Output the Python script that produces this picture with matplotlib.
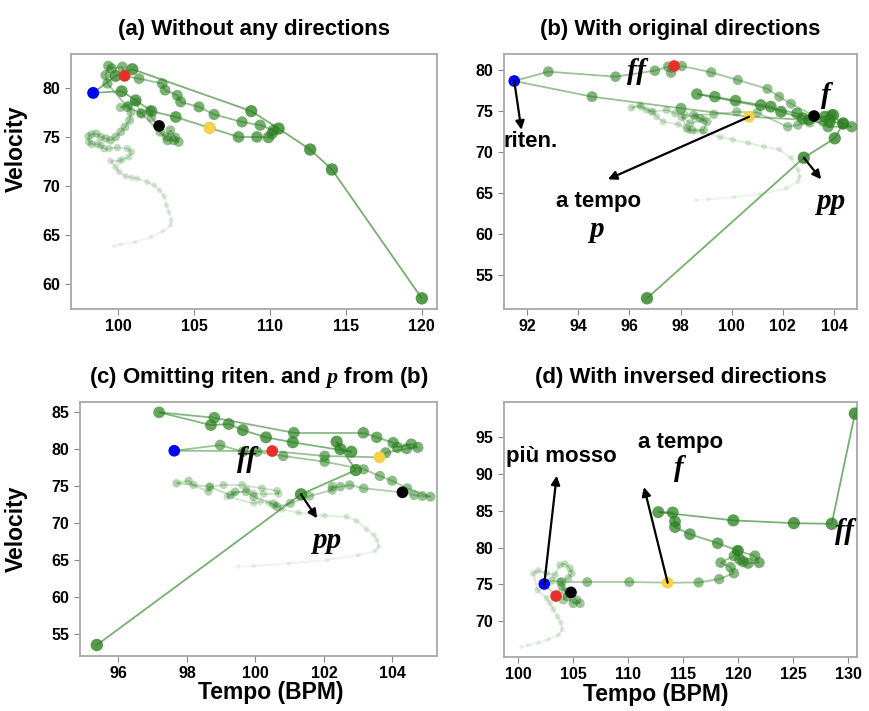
import matplotlib.pyplot as plt
import numpy as np
from matplotlib.collections import LineCollection

plt.rcParams['font.family'] = ['Liberation Sans', 'DejaVu Sans']
plt.rcParams['font.weight'] = 'bold'
plt.rcParams['mathtext.fontset'] = 'custom'
plt.rcParams['mathtext.it'] = 'Liberation Serif:italic:bold'
plt.rcParams['mathtext.rm'] = 'Liberation Sans:bold'

# ---- (a) without any directions ----
tempo_a = [99.74, 100.17, 101.12, 102.15, 102.96, 103.46, 103.5, 103.35, 103.18, 103.03,
           102.74, 102.37, 101.93, 101.27, 100.9, 100.5, 100.07, 99.84, 99.51, 100.1,
           100.28, 100.72, 100.9, 100.61, 99.95, 99.41, 99.08, 98.86, 98.64, 98.26,
           98.09, 98.05, 98.26, 98.57, 98.86, 99.18, 99.51, 99.84, 100.17, 100.46,
           100.76, 100.85, 100.7, 100.15, 101.2, 101.5, 102.1, 102.2, 102.7, 102.78,
           103.22, 103.44, 103.77, 103.99, 103.66, 103.26,
           101.55, 100.6, 99.3, 99.18, 99.36, 99.58, 100.28, 100.43, 101.38, 102.91,
           103.09, 103.9, 104.12, 105.33, 106.32, 108.16, 109.36, 110.24, 110.13, 109.9,
           109.14, 107.93, 106.03, 103.8, 102.2, 101.16, 100.24, 98.36, 99.84, 100.94,
           108.77, 110.57, 112.65, 114.08, 120.0]
vel_a = [63.9, 64.05, 64.3, 64.8, 65.4, 66.0, 66.5, 67.36, 68.04, 68.95,
         69.56, 70.07, 70.4, 70.75, 70.85, 70.98, 71.42, 71.93, 72.54, 72.54,
         72.68, 72.95, 73.46, 73.8, 73.9, 73.8, 73.8, 74.14, 74.24, 74.24,
         74.47, 75.05, 75.25, 75.32, 74.98, 74.82, 74.64, 74.98, 75.49, 76.0,
         76.68, 77.5, 78.2, 77.97, 78.5, 77.4, 77.7, 76.95, 76.07, 75.49,
         74.98, 75.66, 74.92, 74.47, 74.64, 74.64,
         77.36, 78.03, 80.4, 81.25, 82.2, 81.93, 82.1, 81.18, 80.9, 80.4,
         79.73, 79.2, 78.54, 78.03, 77.26, 76.5, 76.17, 75.66, 75.32, 74.92,
         74.98, 74.98, 75.9, 77.0, 77.6, 78.7, 79.62, 79.45, 81.18, 81.86,
         77.6, 75.83, 73.7, 71.67, 58.58]
marks_a = {'blue': (98.36, 79.45), '#e8302a': (100.43, 81.18),
           'black': (102.7, 76.1), '#f7d244': (106.03, 75.9)}

# ---- (b) with original directions ----
tempo_b = [98.6, 99.1, 100.1, 101.1, 102.13, 102.6, 102.65, 102.6, 102.32, 101.86,
           101.27, 100.65, 100.05, 99.56, 98.84, 98.58, 98.31, 97.92, 97.32, 97.07,
           96.93, 96.67, 96.41, 96.08, 96.47, 96.87, 97.46, 97.79, 98.18, 98.58,
           98.9, 98.38, 98.05, 98.25, 98.45, 98.9, 99.04, 98.77, 98.51, 99.3,
           100.2, 101.0,
           102.19, 102.59, 103.05, 103.57, 103.22, 102.32, 101.86, 101.4, 100.24, 99.2,
           98.05, 97.63, 97.52, 97.0, 95.46, 92.83, 91.5, 94.54, 98.02, 100.68,
           103.0, 103.9, 104.36, 104.69, 103.77, 102.55, 98.64, 99.34, 100.15, 101.14,
           101.53, 101.93, 102.78, 103.64, 103.97, 103.83, 104.36, 104.03, 102.82, 96.69]
vel_b = [64.15, 64.23, 64.5, 64.85, 65.57, 66.4, 67.0, 67.8, 69.3, 70.3,
         70.65, 71.1, 71.5, 71.8, 72.48, 72.55, 72.68, 73.38, 73.7, 74.3,
         74.91, 75.12, 75.73, 75.4, 75.52, 74.91, 75.12, 74.72, 74.51, 74.3,
         73.9, 73.5, 74.3, 72.89, 72.68, 72.68, 73.7, 74.11, 74.51, 74.6,
         74.9, 74.8,
         73.08, 73.29, 73.57, 73.7, 74.39, 75.9, 76.75, 77.7, 78.78, 79.72,
         80.49, 79.68, 80.41, 79.92, 79.19, 79.8, 78.66, 76.75, 75.33, 74.3,
         73.9, 74.51, 73.41, 73.08, 73.09, 74.72, 77.07, 76.75, 76.26, 75.73,
         75.53, 74.91, 74.11, 74.3, 74.51, 73.7, 73.5, 71.67, 69.3, 52.16]
marks_b = {'blue': (91.5, 78.66), '#e8302a': (97.75, 80.49),
           'black': (103.22, 74.39), '#f7d244': (100.68, 74.3)}

# ---- (c) omitting riten. and p ----
tempo_c = [99.49, 99.95, 100.97, 102.09, 103.0, 103.5, 103.6, 103.55, 103.46, 103.24,
           102.95, 102.66, 102.02, 101.26, 100.78, 100.58, 100.39, 100.14, 99.95, 99.17,
           99.36, 99.75, 99.95, 100.24, 100.68, 100.63, 100.19, 99.61, 99.07, 98.68,
           98.63, 98.19, 98.05, 97.7, 98.66, 99.27, 99.41, 99.73, 99.95, 100.53,
           100.63, 101.02,
           101.58, 102.24, 102.24, 102.48, 102.75, 103.16, 104.29, 104.63, 104.87, 105.11,
           104.43, 103.99, 103.63, 103.16, 102.02, 100.81, 100.05, 99.64, 98.97, 97.63,
           100.49, 102.02, 103.62, 103.8, 104.41, 104.74, 104.55, 104.14, 104.02, 103.54,
           103.15, 101.12, 98.8, 97.19, 98.7, 99.22, 99.63, 100.31, 101.09, 102.8,
           102.48, 102.37, 102.93, 101.33, 95.37]
vel_c = [64.14, 64.23, 64.59, 65.04, 65.7, 66.26, 66.84, 67.74, 68.42, 69.19,
         70.35, 70.89, 71.03, 71.43, 71.89, 72.47, 72.7, 72.92, 72.7, 73.6,
         73.96, 74.59, 74.05, 73.96, 73.96, 74.41, 74.73, 75.18, 75.18, 74.95,
         74.27, 75.18, 75.76, 75.41, 74.95, 73.82, 74.27, 74.27, 73.6, 72.61,
         72.25, 72.7,
         73.69, 74.5, 74.95, 74.95, 75.18, 74.73, 74.19, 73.82, 73.69, 73.6,
         74.73, 75.76, 76.4, 77.3, 78.33, 79.1, 79.68, 79.68, 80.58, 79.81,
         79.77, 79.1, 78.92, 79.54, 80.09, 80.27, 80.72, 80.27, 80.9, 81.62,
         82.24, 82.24, 84.27, 85.0, 83.28, 83.42, 82.6, 81.62, 80.95, 79.68,
         80.04, 81.03, 77.2, 73.92, 53.55]
marks_c = {'blue': (97.63, 79.81), '#e8302a': (100.49, 79.77),
           'black': (104.29, 74.19), '#f7d244': (103.62, 78.92)}

# ---- (d) with inversed directions ----
tempo_d = [100.25, 100.91, 101.82, 102.73, 103.64, 104.0, 103.88, 103.58, 103.18, 102.88,
           102.58, 101.76, 101.36, 101.82, 102.58, 103.34, 103.79, 104.25, 104.7, 104.85,
           104.55, 103.79, 103.03, 102.36, 103.43, 103.94, 104.25, 104.09, 104.79, 104.85,
           105.31, 105.61, 105.0, 104.5, 103.94,
           106.27, 110.09, 113.58, 116.4, 118.27, 119.61, 119.3, 118.4, 119.61, 119.9,
           121.52, 121.9, 120.9, 120.45, 120.15, 120.0, 118.13, 115.6, 114.25, 114.25,
           114.04, 112.73, 119.55, 125.06, 128.5, 130.61]
vel_d = [66.49, 66.72, 67.04, 67.5, 68.08, 68.86, 69.76, 70.58, 71.59, 72.41,
         73.1, 74.22, 76.5, 76.86, 76.5, 76.27, 77.63, 77.77, 77.18, 76.5,
         75.82, 75.35, 75.49, 75.04, 73.4, 74.67, 73.99, 72.86, 73.9, 73.77,
         72.86, 72.41, 72.41, 73.3, 75.31,
         75.31, 75.31, 75.22, 75.25, 75.7, 76.5, 77.32, 77.95, 78.86, 79.58,
         78.86, 77.95, 77.86, 78.08, 78.41, 79.58, 80.59, 81.82, 82.78, 83.54,
         84.77, 84.82, 83.7, 83.32, 83.23, 98.23]
marks_d = {'blue': (102.36, 75.04), '#e8302a': (103.43, 73.4),
           'black': (104.79, 73.9), '#f7d244': (113.58, 75.22)}

GREEN = np.array([0.17, 0.50, 0.13])
dyn = dict(family='Liberation Serif', style='italic', weight='bold', color='black')
label_kw = dict(fontsize=16.5, fontweight='bold')
ann_kw = dict(fontsize=16, fontweight='bold', ha='center', va='center')


def trajectory(ax, x, y, marks):
    x = np.asarray(x)
    y = np.asarray(y)
    n = len(x)
    t = np.linspace(0, 1, n)
    alpha = 0.08 + 0.72 * t
    sizes = 10 + 70 * t
    pts = np.column_stack([x, y])
    segs = np.stack([pts[:-1], pts[1:]], axis=1)
    seg_col = np.column_stack([np.tile(GREEN, (n - 1, 1)), alpha[1:] * 0.8])
    ax.add_collection(LineCollection(segs, colors=seg_col, linewidths=1.3, zorder=2))
    fc = np.column_stack([np.tile(GREEN, (n, 1)), alpha])
    ax.scatter(x, y, s=sizes, c=fc, edgecolors='none', zorder=3)
    for col, (mx, my) in marks.items():
        ax.scatter([mx], [my], s=70, c=col, edgecolors='none', zorder=5)


def style(ax):
    for sp in ax.spines.values():
        sp.set_color('#a8a8a8')
        sp.set_linewidth(1.3)
    ax.tick_params(colors='#888888', labelcolor='black', labelsize=11.5, length=4)
    for lab in ax.get_xticklabels() + ax.get_yticklabels():
        lab.set_fontweight('bold')


fig = plt.figure(figsize=(8.69, 7.11), dpi=100)
ax_a = fig.add_axes([0.0817, 0.5654, 0.4212, 0.3586])
ax_b = fig.add_axes([0.58, 0.5654, 0.4062, 0.3586])
ax_c = fig.add_axes([0.0921, 0.0774, 0.4108, 0.3572])
ax_d = fig.add_axes([0.58, 0.0759, 0.4062, 0.3586])

arrow = dict(arrowstyle='-|>', color='black', lw=1.6, mutation_scale=13, shrinkA=0, shrinkB=0)
title_kw = dict(fontsize=16, fontweight='bold', pad=14)

# (a)
trajectory(ax_a, tempo_a, vel_a, marks_a)
ax_a.set_xlim(96.9, 121.0)
ax_a.set_ylim(57.5, 83.4)
ax_a.set_xticks([100, 105, 110, 115, 120])
ax_a.set_yticks([60, 65, 70, 75, 80])
ax_a.set_title('(a) Without any directions', **title_kw)
ax_a.set_ylabel('Velocity', **label_kw)
ax_a.yaxis.set_label_coords(-0.117, 0.63)

# (b)
trajectory(ax_b, tempo_b, vel_b, marks_b)
ax_b.set_xlim(91.1, 104.9)
ax_b.set_ylim(50.85, 81.95)
ax_b.set_xticks([92, 94, 96, 98, 100, 102, 104])
ax_b.set_yticks([55, 60, 65, 70, 75, 80])
ax_b.set_title('(b) With original directions', **title_kw)
ax_b.annotate('', xy=(91.78, 72.7), xytext=(91.5, 78.66), arrowprops=arrow, zorder=6)
ax_b.text(92.13, 71.26, 'riten.', **ann_kw)
ax_b.annotate('', xy=(95.16, 66.67), xytext=(100.68, 74.3), arrowprops=arrow, zorder=6)
ax_b.text(94.79, 63.94, 'a tempo', **ann_kw)
ax_b.text(94.73, 60.5, 'p', fontsize=21, ha='center', va='center', **dyn)
ax_b.text(96.28, 79.8, 'ff', fontsize=21, ha='center', va='center', **dyn)
ax_b.text(103.7, 76.9, 'f', fontsize=21, ha='center', va='center', **dyn)
ax_b.annotate('', xy=(103.5, 66.67), xytext=(102.82, 69.3), arrowprops=arrow, zorder=6)
ax_b.text(103.86, 63.94, 'pp', fontsize=21, ha='center', va='center', **dyn)

# (c)
trajectory(ax_c, tempo_c, vel_c, marks_c)
ax_c.set_xlim(94.88, 105.3)
ax_c.set_ylim(52.07, 86.4)
ax_c.set_xticks([96, 98, 100, 102, 104])
ax_c.set_yticks([55, 60, 65, 70, 75, 80, 85])
ax_c.set_title(r'(c) Omitting riten. and $\mathit{p}$ from (b)', **title_kw)
ax_c.set_ylabel('Velocity', **label_kw)
ax_c.yaxis.set_label_coords(-0.145, 0.5)
ax_c.set_xlabel('Tempo (BPM)', **label_kw)
ax_c.xaxis.set_label_coords(0.535, -0.1)
ax_c.text(99.75, 78.6, 'ff', fontsize=21, ha='center', va='center', **dyn)
ax_c.annotate('', xy=(101.8, 70.68), xytext=(101.33, 73.92), arrowprops=arrow, zorder=6)
ax_c.text(102.09, 67.74, 'pp', fontsize=21, ha='center', va='center', **dyn)

# (d)
trajectory(ax_d, tempo_d, vel_d, marks_d)
ax_d.set_xlim(98.7, 130.8)
ax_d.set_ylim(65.1, 99.8)
ax_d.set_xticks([100, 105, 110, 115, 120, 125, 130])
ax_d.set_yticks([70, 75, 80, 85, 90, 95])
ax_d.set_title('(d) With inversed directions', **title_kw)
ax_d.set_xlabel('Tempo (BPM)', **label_kw)
ax_d.xaxis.set_label_coords(0.43, -0.1)
ax_d.annotate('', xy=(103.49, 89.77), xytext=(102.36, 75.04), arrowprops=arrow, zorder=6)
ax_d.text(103.94, 92.33, 'più mosso', **ann_kw)
ax_d.annotate('', xy=(111.43, 88.23), xytext=(113.58, 75.22), arrowprops=arrow, zorder=6)
ax_d.text(114.79, 94.32, 'a tempo', **ann_kw)
ax_d.text(114.64, 90.73, 'f', fontsize=21, ha='center', va='center', **dyn)
ax_d.text(129.7, 82.2, 'ff', fontsize=21, ha='center', va='center', **dyn)

for ax in (ax_a, ax_b, ax_c, ax_d):
    style(ax)

fig.savefig('out.png', dpi=100)
